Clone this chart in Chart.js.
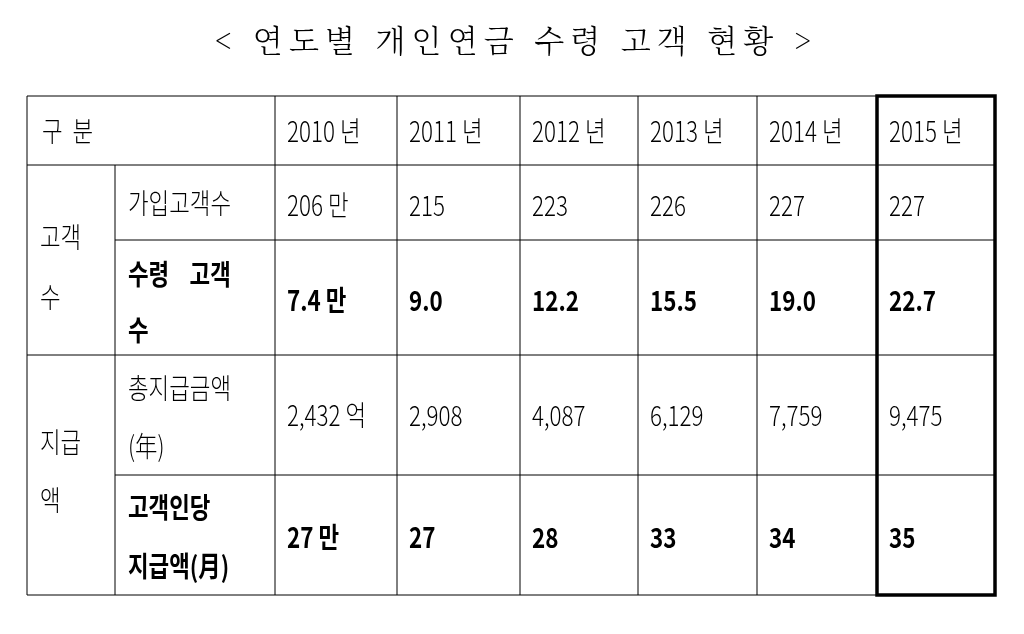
<!DOCTYPE html>
<html>
<head>
<meta charset="utf-8">
<script src="https://cdn.jsdelivr.net/npm/chart.js@4"></script>
<style>
  html, body { margin: 0; padding: 0; background: #fff; }
  #wrap { width: 1024px; height: 634px; }
</style>
</head>
<body>
<div id="wrap"><canvas id="c"></canvas></div>
<script>
const title = '< 연도별 개인연금 수령 고객 현황 >';
const years = ['2010 년', '2011 년', '2012 년', '2013 년', '2014 년', '2015 년'];
const subscribers = ['206 만', '215', '223', '226', '227', '227'];
const receivers = ['7.4 만', '9.0', '12.2', '15.5', '19.0', '22.7'];
const totalPaid = ['2,432 억', '2,908', '4,087', '6,129', '7,759', '9,475'];
const perCustomer = ['27 만', '27', '28', '33', '34', '35'];

// grid in page units (x: 0..1024, y: 0..634)
const colEdges = [27, 115, 275, 397, 520, 638, 757, 877, 995];
const rowEdges = [96, 165, 240, 355, 475, 595];
const FONT = '"Noto Sans CJK KR", "Noto Sans", sans-serif';

function text(ctx, s, x, y, bold, size) {
  ctx.save();
  ctx.translate(x, y);
  ctx.scale(0.8, 1);
  ctx.font = `${bold ? 'bold' : '300'} ${size || 28}px ${FONT}`;
  ctx.fillStyle = '#000';
  ctx.textBaseline = 'middle';
  ctx.fillText(s, 0, 0);
  ctx.restore();
}

const tablePlugin = {
  id: 'table',
  afterDraw(chart) {
    const { ctx, scales } = chart;
    const X = (v) => scales.x.getPixelForValue(v);
    const Y = (v) => scales.y.getPixelForValue(v);
    ctx.save();
    ctx.strokeStyle = '#000';
    ctx.lineWidth = 1;
    const line = (x1, y1, x2, y2) => {
      ctx.beginPath(); ctx.moveTo(X(x1), Y(y1)); ctx.lineTo(X(x2), Y(y2)); ctx.stroke();
    };
    const L = colEdges[0], R = colEdges[colEdges.length - 1];
    const T = rowEdges[0], B = rowEdges[rowEdges.length - 1];
    line(L, T, R, T); line(L, B, R, B);
    line(L, rowEdges[1], R, rowEdges[1]);
    line(colEdges[1], rowEdges[2], R, rowEdges[2]);
    line(L, rowEdges[3], R, rowEdges[3]);
    line(colEdges[1], rowEdges[4], R, rowEdges[4]);
    line(L, T, L, B); line(R, T, R, B);
    line(colEdges[1], rowEdges[1], colEdges[1], B);
    for (let i = 2; i < colEdges.length - 1; i++) line(colEdges[i], T, colEdges[i], B);
    // thick frame around last column
    ctx.lineWidth = 3.5;
    ctx.strokeRect(X(colEdges[7]), Y(T), X(R) - X(colEdges[7]), Y(B) - Y(T));
    ctx.restore();

    // title
    ctx.save();
    ctx.font = `300 31px "Noto Serif CJK KR", ${FONT}`;
    ctx.textAlign = 'center';
    ctx.textBaseline = 'middle';
    ctx.fillStyle = '#000';
    ctx.fillText(title.split('').join('\u2009'), X(513), Y(40));
    ctx.restore();

    text(ctx, '구  분', X(42), Y(131));
    years.forEach((s, i) => text(ctx, s, X(colEdges[i + 2] + 12), Y(131)));
    text(ctx, '고객', X(40), Y(237));
    text(ctx, '수', X(40), Y(297));
    text(ctx, '지급', X(40), Y(442));
    text(ctx, '액', X(40), Y(500));
    text(ctx, '가입고객수', X(128), Y(203));
    text(ctx, '수령    고객', X(128), Y(274), true);
    text(ctx, '수', X(128), Y(330), true);
    text(ctx, '총지급금액', X(128), Y(388));
    text(ctx, '(年)', X(128), Y(446));
    text(ctx, '고객인당', X(128), Y(507), true);
    text(ctx, '지급액(月)', X(128), Y(566), true);
    const rows = [
      [subscribers, 205, false],
      [receivers, 300, true],
      [totalPaid, 415, false],
      [perCustomer, 537, true]
    ];
    rows.forEach(([vals, y, bold]) => {
      vals.forEach((s, i) => text(ctx, s, X(colEdges[i + 2] + 12), Y(y), bold));
    });
  }
};

new Chart(document.getElementById('c'), {
  type: 'scatter',
  data: { datasets: [{ data: [] }] },
  options: {
    responsive: true,
    maintainAspectRatio: false,
    animation: false,
    layout: { padding: 0 },
    plugins: { legend: { display: false }, tooltip: { enabled: false } },
    scales: {
      x: { type: 'linear', min: 0, max: 1024, display: false },
      y: { type: 'linear', min: 0, max: 634, reverse: true, display: false }
    }
  },
  plugins: [tablePlugin]
});
</script>
</body>
</html>
